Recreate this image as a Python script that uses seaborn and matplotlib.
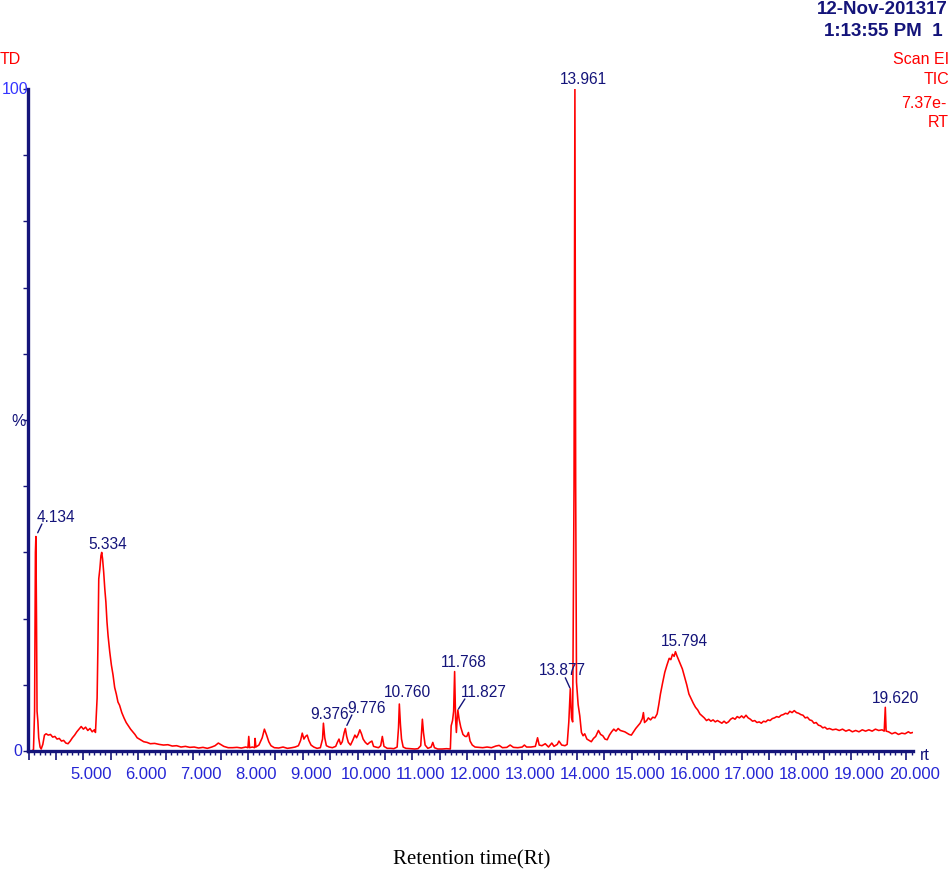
import matplotlib
matplotlib.use('Agg')
import matplotlib.pyplot as plt
import matplotlib.transforms as mtransforms
from matplotlib.ticker import FixedLocator, MultipleLocator, FuncFormatter
import seaborn as sns

# chromatogram trace (retention time in min, relative intensity %)
rt = [3.99, 4.06, 4.09, 4.11, 4.125, 4.134, 4.145, 4.155, 4.17, 4.185, 4.21, 4.23, 4.26, 4.29,
      4.32, 4.36, 4.40, 4.44, 4.48, 4.52, 4.56, 4.60, 4.64, 4.68, 4.72, 4.76, 4.80, 4.84, 4.88,
      4.92, 4.96, 5.00, 5.04, 5.08, 5.12, 5.16, 5.20, 5.22, 5.25, 5.265, 5.28, 5.30, 5.32, 5.334,
      5.35, 5.37, 5.39, 5.41, 5.43, 5.45, 5.48, 5.51, 5.54, 5.57, 5.60, 5.63, 5.66, 5.70, 5.74,
      5.78, 5.82, 5.86, 5.90, 5.94, 5.98, 6.04, 6.10, 6.16, 6.22, 6.30, 6.38, 6.46, 6.54, 6.62,
      6.70, 6.78, 6.86, 6.94, 7.02, 7.10, 7.18, 7.26, 7.34, 7.40, 7.46, 7.50, 7.56, 7.64, 7.72,
      7.80, 7.88, 7.96, 8.00, 8.015, 8.03, 8.08, 8.12, 8.13, 8.145, 8.20, 8.26, 8.30, 8.34, 8.38,
      8.42, 8.48, 8.56, 8.64, 8.72, 8.80, 8.86, 8.92, 8.96, 8.99, 9.02, 9.05, 9.08, 9.11, 9.15,
      9.20, 9.26, 9.32, 9.36, 9.376, 9.40, 9.43, 9.48, 9.54, 9.60, 9.63, 9.66, 9.69, 9.72, 9.755,
      9.776, 9.80, 9.83, 9.87, 9.91, 9.95, 9.98, 10.01, 10.04, 10.07, 10.10, 10.14, 10.18, 10.22,
      10.26, 10.29, 10.33, 10.38, 10.42, 10.45, 10.48, 10.54, 10.60, 10.66, 10.72, 10.745, 10.76,
      10.78, 10.80, 10.83, 10.88, 10.96, 11.04, 11.10, 11.15, 11.18, 11.20, 11.23, 11.28, 11.34,
      11.37, 11.40, 11.46, 11.54, 11.62, 11.69, 11.705, 11.73, 11.75, 11.768, 11.785, 11.80,
      11.815, 11.827, 11.85, 11.88, 11.92, 11.96, 11.99, 12.02, 12.05, 12.09, 12.14, 12.20, 12.28,
      12.36, 12.44, 12.52, 12.58, 12.64, 12.72, 12.78, 12.84, 12.92, 13.00, 13.04, 13.08, 13.16,
      13.24, 13.28, 13.31, 13.36, 13.42, 13.48, 13.54, 13.58, 13.64, 13.67, 13.72, 13.78, 13.82,
      13.85, 13.877, 13.90, 13.92, 13.945, 13.961, 13.975, 13.99, 14.02, 14.05, 14.08, 14.11,
      14.14, 14.18, 14.22, 14.26, 14.30, 14.34, 14.39, 14.43, 14.47, 14.51, 14.55, 14.59, 14.63,
      14.67, 14.71, 14.75, 14.79, 14.83, 14.87, 14.91, 14.95, 14.99, 15.03, 15.07, 15.11, 15.15,
      15.19, 15.21, 15.23, 15.27, 15.30, 15.34, 15.38, 15.42, 15.46, 15.49, 15.52, 15.56, 15.60,
      15.64, 15.68, 15.71, 15.74, 15.77, 15.794, 15.82, 15.85, 15.88, 15.92, 15.96, 16.00, 16.04,
      16.08, 16.12, 16.16, 16.20, 16.24, 16.28, 16.32, 16.36, 16.40, 16.44, 16.48, 16.52, 16.56,
      16.60, 16.64, 16.68, 16.72, 16.76, 16.80, 16.84, 16.88, 16.92, 16.96, 17.00, 17.04, 17.08,
      17.12, 17.16, 17.20, 17.24, 17.28, 17.32, 17.36, 17.40, 17.44, 17.48, 17.52, 17.56, 17.60,
      17.64, 17.68, 17.72, 17.76, 17.80, 17.84, 17.88, 17.92, 17.96, 18.00, 18.04, 18.08, 18.12,
      18.16, 18.20, 18.24, 18.28, 18.32, 18.36, 18.40, 18.44, 18.48, 18.52, 18.56, 18.60, 18.66,
      18.72, 18.78, 18.84, 18.90, 18.96, 19.02, 19.08, 19.14, 19.20, 19.26, 19.32, 19.38, 19.44,
      19.50, 19.56, 19.60, 19.62, 19.635, 19.68, 19.74, 19.80, 19.86, 19.92, 19.98, 20.04, 20.08,
      20.12]
intensity = [0.0, 0.0, 0.2, 6.0, 30.0, 32.4, 20.0, 6.0, 4.5, 2.0, 0.6, 0.3, 1.0, 2.4,
             2.6, 2.4, 2.5, 2.1, 2.2, 1.8, 1.9, 1.5, 1.6, 1.2, 1.1, 1.5, 2.0, 2.4, 2.9,
             3.3, 3.7, 3.3, 3.6, 3.1, 3.4, 2.9, 3.2, 2.8, 8.0, 16.0, 26.0, 27.5, 29.5, 30.0,
             29.0, 27.0, 24.5, 22.5, 19.5, 17.4, 15.0, 13.0, 11.5, 9.6, 8.6, 7.4, 6.9, 5.8, 5.0,
             4.3, 3.8, 3.3, 2.9, 2.5, 2.0, 1.7, 1.4, 1.3, 1.1, 1.15, 1.0, 0.9, 0.95, 0.75,
             0.8, 0.6, 0.7, 0.55, 0.6, 0.45, 0.55, 0.4, 0.6, 0.8, 1.2, 1.0, 0.7, 0.5, 0.5,
             0.55, 0.45, 0.6, 0.5, 2.2, 0.5, 0.6, 0.5, 1.9, 0.6, 0.9, 2.0, 3.3, 2.4, 1.4,
             0.8, 0.5, 0.45, 0.6, 0.4, 0.5, 0.6, 0.8, 1.6, 2.7, 1.8, 2.2, 2.4, 1.6, 0.9,
             0.6, 0.4, 0.5, 1.8, 4.2, 2.0, 0.8, 0.6, 0.5, 0.7, 1.3, 1.8, 1.0, 1.4, 2.8,
             3.4, 2.2, 1.3, 0.9, 1.6, 2.4, 2.0, 2.5, 3.2, 2.6, 1.8, 1.3, 1.0, 1.3,
             1.5, 0.7, 0.6, 0.5, 0.8, 2.2, 0.7, 0.4, 0.4, 0.35, 0.6, 3.5, 7.1,
             4.0, 1.8, 0.6, 0.4, 0.35, 0.3, 0.35, 0.8, 4.8, 2.8, 0.9, 0.4, 0.6,
             1.3, 0.5, 0.3, 0.3, 0.35, 0.3, 3.8, 4.6, 6.0, 12.0, 5.0, 2.8,
             5.0, 6.2, 4.8, 3.6, 2.5, 2.2, 2.2, 2.8, 1.5, 0.9, 0.6, 0.55, 0.5,
             0.6, 0.5, 0.75, 0.85, 0.5, 0.55, 0.9, 0.55, 0.5, 0.6, 0.9, 0.6, 0.6,
             0.7, 2.0, 0.9, 0.8, 1.1, 0.6, 1.2, 0.7, 1.0, 1.5, 0.9, 0.8, 1.0,
             4.4, 9.4, 5.0, 4.4, 40.0, 100.0, 40.0, 10.4, 7.0, 5.3, 2.8, 2.3,
             2.6, 1.8, 1.6, 1.4, 1.9, 2.2, 3.1, 2.5, 2.3, 1.8, 1.7, 2.4, 2.9,
             3.3, 3.0, 3.4, 3.1, 3.0, 2.9, 2.7, 2.5, 2.4, 2.9, 3.4, 3.8, 4.2,
             4.9, 5.8, 4.3, 4.6, 5.0, 4.7, 5.1, 5.0, 5.6, 7.0, 8.6, 10.3, 11.9,
             13.0, 14.0, 13.8, 14.6, 14.3, 15.0, 14.4, 13.8, 13.2, 12.4, 11.2, 10.0, 8.6,
             7.9, 7.2, 6.6, 6.2, 5.6, 5.3, 5.0, 4.6, 4.8, 4.5, 4.7, 4.4, 4.6,
             4.4, 4.2, 4.5, 4.2, 4.4, 4.8, 5.0, 4.8, 5.2, 5.0, 5.3, 5.0, 5.4,
             5.0, 4.8, 4.5, 4.6, 4.3, 4.4, 4.2, 4.5, 4.4, 4.7, 4.6, 4.9, 5.0,
             5.2, 5.1, 5.4, 5.5, 5.7, 5.6, 6.0, 5.8, 6.1, 5.8, 5.7, 5.5, 5.4,
             5.0, 5.1, 4.7, 4.6, 4.2, 4.3, 3.9, 3.8, 3.5, 3.6, 3.3, 3.4, 3.2,
             3.3, 3.1, 3.3, 3.0, 3.2, 2.9, 3.1, 2.9, 3.2, 3.0, 3.2, 3.0, 3.3,
             3.1, 3.2, 3.0, 6.6, 3.0, 2.9, 2.6, 2.8, 2.5, 2.7, 2.6, 2.9, 2.7,
             2.8]

# labelled peaks
peak_rt = [4.134, 5.334, 9.376, 9.776, 10.760, 11.768, 11.827, 13.877, 13.961, 15.794, 19.620]
peak_height = [32.4, 30.0, 4.2, 3.4, 7.1, 12.0, 6.2, 9.4, 100.0, 15.0, 6.6]
peak_labels = ['4.134', '5.334', '9.376', '9.776', '10.760', '11.768', '11.827',
               '13.877', '13.961', '15.794', '19.620']
# label offsets in pixels and optional leader line end
label_offsets = [(20, 20), (6, 9), (6.5, 10), (21.5, 20.5), (8.6, 12), (9.3, 9.6),
                 (26, 18), (-8.4, 19), (9, 10), (9.4, 10.7), (10.6, 10)]
leaders = {0: ((6, 12.5), 3.0), 3: ((6.5, 13.5), 2.5), 6: ((7, 11), 0.8), 7: ((-5, 11), 0.8)}

xtick_values = [5, 6, 7, 8, 9, 10, 11, 12, 13, 14, 15, 16, 17, 18, 19, 20]

NAVY = '#14147a'
BLUE = '#2525d5'
RED = '#ff0000'

sns.set_style('white')
plt.rcParams['font.family'] = ['Liberation Sans', 'DejaVu Sans']

W, H = 948, 870
fig = plt.figure(figsize=(W / 100, H / 100), dpi=100)
ax = fig.add_axes([28 / W, 1 - 752 / H, (913 - 28) / W, (752 - 90) / H])

sns.lineplot(x=rt, y=intensity, ax=ax, color=RED, linewidth=1.15, estimator=None, sort=False)

ax.set_xlim(3.99, 20.125)
ax.set_ylim(0, 100)

for s in ['top', 'right']:
    ax.spines[s].set_visible(False)
for s in ['left', 'bottom']:
    ax.spines[s].set_color(NAVY)
    ax.spines[s].set_linewidth(2.4)

# x ticks: long every 0.5, short every 0.1, labels at whole minutes
major = [4.0 + 0.5 * i for i in range(33)]
ax.xaxis.set_major_locator(FixedLocator(major))
ax.xaxis.set_minor_locator(MultipleLocator(0.1))
ax.xaxis.set_major_formatter(FuncFormatter(
    lambda v, p: f'{v:.3f}' if any(abs(v - t) < 1e-6 for t in xtick_values) else ''))
ax.tick_params(axis='x', which='major', direction='out', length=6.5, width=1.2,
               color=NAVY, labelcolor=BLUE, labelsize=12, pad=4.5, bottom=True)
ax.tick_params(axis='x', which='minor', direction='out', length=3.2, width=1.0,
               color=NAVY, bottom=True)
shift = mtransforms.ScaledTranslation(8 / 100, 0, fig.dpi_scale_trans)
for lab in ax.get_xticklabels():
    lab.set_transform(lab.get_transform() + shift)

ax.set_yticks([10 * i for i in range(11)])
ax.set_yticklabels([])
ax.tick_params(axis='y', direction='out', length=3.5, width=1.0, color=NAVY, left=True)

ax.grid(False)
ax.set_xlabel('')
ax.set_ylabel('')

for i, (x, y, lab) in enumerate(zip(peak_rt, peak_height, peak_labels)):
    ax.annotate(lab, xy=(x, y), xytext=label_offsets[i], textcoords='offset pixels',
                ha='center', va='center', fontsize=11.2, color=NAVY, annotation_clip=False)
    if i in leaders:
        end, shrink = leaders[i]
        ax.annotate('', xy=(x, y), xytext=end, textcoords='offset pixels',
                    arrowprops=dict(arrowstyle='-', color=NAVY, lw=1.0, shrinkA=0, shrinkB=shrink),
                    annotation_clip=False)

def ftext(px, py, s, **kw):
    fig.text(px / W, 1 - py / H, s, va='center', **kw)

# header / side texts
ftext(817, 9, '12-Nov-201317', ha='left', fontsize=13.5, fontweight='bold', color=NAVY)
ftext(824, 32, '1:13:55 PM  1', ha='left', fontsize=13.5, fontweight='bold', color=NAVY)
ftext(0, 60, 'TD', ha='left', fontsize=11.5, color=RED)
ftext(893, 60, 'Scan EI', ha='left', fontsize=11.5, color=RED)
ftext(924, 80, 'TIC', ha='left', fontsize=11.5, color=RED)
ftext(946, 103, '7.37e-', ha='right', fontsize=11.5, color=RED)
ftext(928, 123, 'RT', ha='left', fontsize=11.5, color=RED)

# y labels
ftext(14.7, 90, '100', ha='center', fontsize=11.5, color='#3535ff')
ftext(17.8, 752, '0', ha='center', fontsize=11.5, color=BLUE)
ftext(18.8, 421, '%', ha='center', fontsize=11.5, color=NAVY)
ftext(925, 756, 'rt', ha='center', fontsize=11.5, color=NAVY)

fig.text(472 / W, 1 - 860 / H, 'Retention time(Rt)', ha='center', va='center',
         fontsize=15, color='black', family=['Liberation Serif', 'DejaVu Serif'])

fig.savefig('out.png', dpi=100)
